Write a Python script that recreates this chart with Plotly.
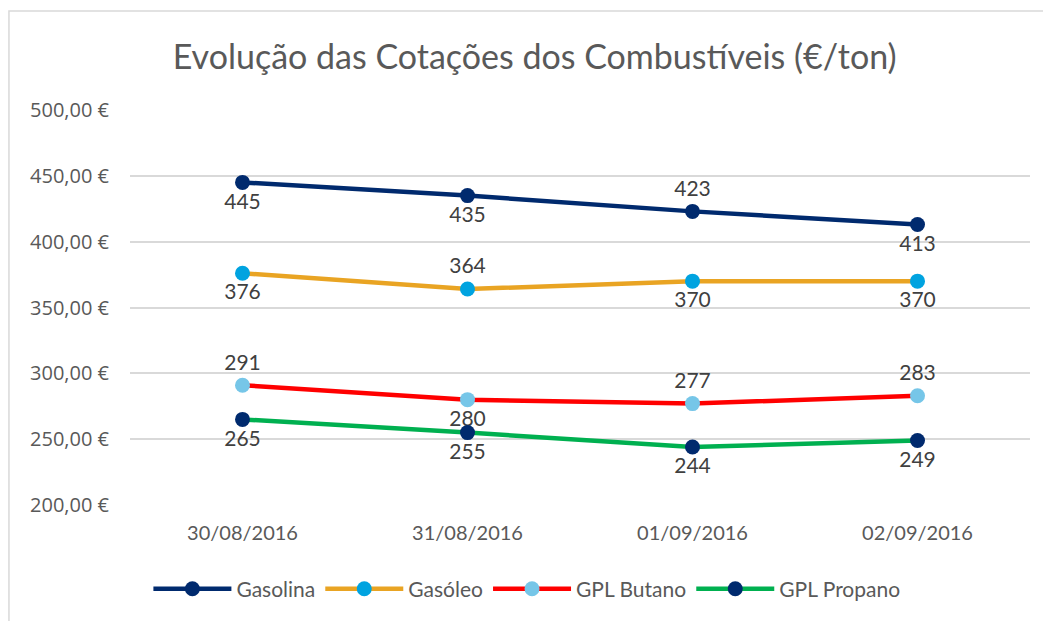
import plotly.graph_objects as go

dates = ["30/08/2016", "31/08/2016", "01/09/2016", "02/09/2016"]
gasolina = [445, 435, 423, 413]
gasoleo = [376, 364, 370, 370]
gpl_butano = [291, 280, 277, 283]
gpl_propano = [265, 255, 244, 249]
y_ticks = [200, 250, 300, 350, 400, 450, 500]
y_tick_labels = ["200,00 €", "250,00 €", "300,00 €", "350,00 €", "400,00 €", "450,00 €", "500,00 €"]

series = [
    ("Gasolina", gasolina, "#002A6E", "#002A6E",
     ["bottom center", "bottom center", "top center", "bottom center"]),
    ("Gasóleo", gasoleo, "#E9A423", "#00A3E0",
     ["bottom center", "top center", "bottom center", "bottom center"]),
    ("GPL Butano", gpl_butano, "#FF0000", "#76C6E8",
     ["top center", "bottom center", "top center", "top center"]),
    ("GPL Propano", gpl_propano, "#00B050", "#002A6E",
     ["bottom center", "bottom center", "bottom center", "bottom center"]),
]

fig = go.Figure()
for name, vals, lc, mc, pos in series:
    fig.add_trace(go.Scatter(
        x=dates, y=vals, name=name, mode="lines+markers+text",
        line=dict(color=lc, width=4.5),
        marker=dict(color=mc, size=15),
        text=[str(v) for v in vals], textposition=pos,
        textfont=dict(family="Lato, Carlito, sans-serif", size=21, color="#404040"),
        cliponaxis=False,
    ))

fig.update_layout(
    width=1043, height=613,
    margin=dict(l=122, r=21, t=102, b=116, autoexpand=False),
    paper_bgcolor="white", plot_bgcolor="white",
    title=dict(text="Evolução das Cotações dos Combustíveis (€/ton)",
               x=0.505, xanchor="center", y=0.920, yanchor="middle",
               font=dict(family="Lato, Carlito, sans-serif", size=34, color="#595959")),
    xaxis=dict(showgrid=False, showline=False, zeroline=False, ticks="",
               range=[-0.5, 3.5], automargin=False, ticklabelstandoff=14,
               tickfont=dict(family="Lato, sans-serif", size=20, color="#595959")),
    yaxis=dict(range=[200, 500], tickvals=y_ticks, ticktext=y_tick_labels,
               showgrid=True, gridcolor="#D9D9D9", gridwidth=1.5,
               zeroline=False, showline=False, ticks="", ticklen=0,
               automargin=False, ticklabelstandoff=20,
               tickfont=dict(family="Open Sans, sans-serif", size=20, color="#595959")),
    legend=dict(orientation="h", x=0.441, xanchor="center", y=-0.213, yanchor="middle",
                font=dict(family="Lato, sans-serif", size=21, color="#595959"),
                itemwidth=78, tracegroupgap=0),
    shapes=[dict(type="rect", xref="paper", yref="paper",
                 x0=-0.1345, x1=1.2, y0=-0.5, y1=1.2506,
                 line=dict(color="#D9D9D9", width=1.5), fillcolor="rgba(0,0,0,0)", layer="below")],
)

fig.write_html("out.html")
